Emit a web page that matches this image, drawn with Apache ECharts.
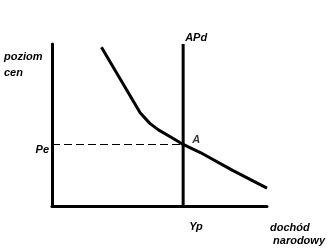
<!DOCTYPE html>
<html>
<head>
<meta charset="utf-8">
<script src="https://cdn.jsdelivr.net/npm/echarts@6/dist/echarts.min.js"></script>
<style>
html,body{margin:0;padding:0;background:#fff;}
#c{width:331px;height:251px;}
</style>
</head>
<body>
<div id="c"></div>
<script>
// Aggregate demand curve (national income, price level) in schematic units
var adIncome = [23, 41, 45.5, 49.5, 56, 61, 69, 84, 100];
var adPrice  = [98, 57.5, 51, 47, 42, 38, 33, 22, 11];
// Long-run aggregate supply (potential output) and equilibrium price
var potentialOutput = 61;   // Yp
var equilibriumPrice = 38;  // Pe
var axisMin = 0, axisMax = 100;
var labels = {
  yName: 'poziom\ncen',
  xName: 'dochód\n narodowy',
  pe: 'Pe', yp: 'Yp', apd: 'APd', point: 'A'
};

var FONT = {fontFamily: 'Liberation Sans, Arial, sans-serif', fontWeight: 'bold', fontStyle: 'italic', fontSize: 11, color: '#000'};
function f(extra){ var o = {}; for (var k in FONT) o[k] = FONT[k]; for (var k2 in extra) o[k2] = extra[k2]; return o; }

var chart = echarts.init(document.getElementById('c'), null, {renderer: 'canvas'});
var curve = adIncome.map(function(x, i){ return [x, adPrice[i]]; });

chart.setOption({
  animation: false,
  backgroundColor: '#fff',
  grid: {left: 52, top: 44, width: 215, height: 162, containLabel: false},
  xAxis: {
    type: 'value', min: axisMin, max: axisMax,
    splitLine: {show: false}, axisTick: {show: false},
    axisLine: {show: true, onZero: false, lineStyle: {color: '#000', width: 3}},
    axisLabel: f({show: true, customValues: [potentialOutput], formatter: function(){ return labels.yp; },
      align: 'left', margin: 15, padding: [0, 0, 0, 6]})
  },
  yAxis: {
    type: 'value', min: axisMin, max: axisMax,
    splitLine: {show: false}, axisTick: {show: false},
    axisLine: {show: true, onZero: false, lineStyle: {color: '#000', width: 3}},
    axisLabel: f({show: true, customValues: [equilibriumPrice], formatter: function(){ return labels.pe; },
      margin: 3, verticalAlign: 'top'})
  },
  graphic: [
    {type: 'text', left: 4, top: 49, style: f({text: labels.yName, lineHeight: 16, fill: '#000'})},
    {type: 'text', left: 270, top: 221, style: f({text: labels.xName, lineHeight: 13, fill: '#000'})}
  ],
  series: [
    {
      type: 'line', data: curve, showSymbol: false, symbol: 'none',
      lineStyle: {color: '#000', width: 3}, silent: true, z: 3,
      markLine: {
        silent: true, symbol: 'none', animation: false,
        data: [
          [{coord: [axisMin, equilibriumPrice]}, {coord: [potentialOutput, equilibriumPrice]}]
        ],
        lineStyle: {color: '#000', width: 1, type: [8, 4]},
        label: {show: false}
      }
    },
    {
      type: 'line', data: [[potentialOutput, axisMin], [potentialOutput, axisMax]],
      showSymbol: false, symbol: 'none', lineStyle: {color: '#000', width: 3}, silent: true, z: 4,
      endLabel: f({show: true, formatter: function(){ return labels.apd; }, offset: [-6, -6], align: 'left'})
    },
    {
      type: 'scatter', data: [[potentialOutput, equilibriumPrice]], symbolSize: 0, silent: true, z: 5,
      label: f({show: true, position: 'right', distance: 9, offset: [0, -4], formatter: function(){ return labels.point; }})
    }
  ]
});
</script>
</body>
</html>
